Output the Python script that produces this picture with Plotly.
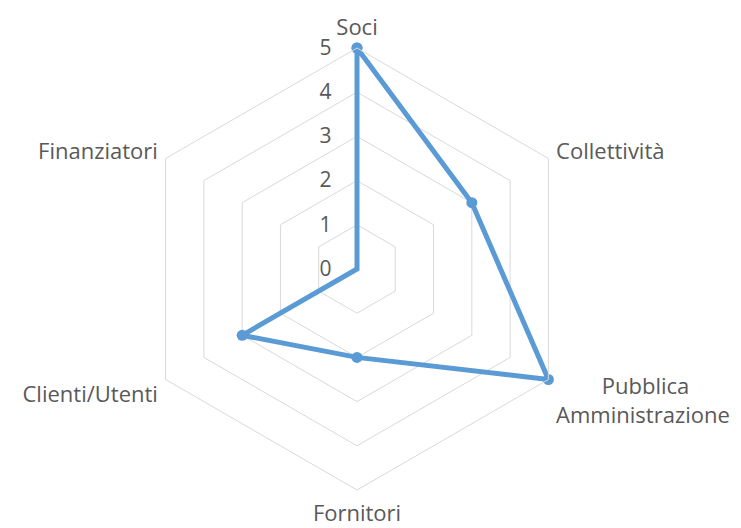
import plotly.graph_objects as go

NB = "\u00a0"
categories = ["Soci", "Collettività", NB * 8 + "Pubblica<br>Amministrazione",
              "Fornitori", "Clienti/Utenti", "Finanziatori"]
values = [5, 3, 5, 2, 3, 0]
tick_vals = [0, 1, 2, 3, 4, 5]
tick_text = [str(v) + NB * 4 for v in tick_vals]

W, H = 741, 528
cx, cy, R = 349, 261, 221

fig = go.Figure()
fig.add_trace(go.Scatterpolar(
    r=values + [values[0]],
    theta=categories + [categories[0]],
    mode="lines+markers",
    line=dict(color="#5B9BD5", width=5),
    marker=dict(color="#5B9BD5", size=11),
    showlegend=False,
))

fig.update_layout(
    width=W, height=H,
    margin=dict(l=0, r=0, t=0, b=0),
    paper_bgcolor="white",
    font=dict(family="Open Sans", color="#595959", size=22),
    polar=dict(
        domain=dict(x=[(cx - R) / W, (cx + R) / W], y=[(H - cy - R) / H, (H - cy + R) / H]),
        gridshape="linear",
        bgcolor="white",
        radialaxis=dict(
            range=[0, 5], tickvals=tick_vals, ticktext=tick_text, angle=90, tickangle=90,
            showline=False, gridcolor="#D9D9D9", gridwidth=1, ticks="",
            tickfont=dict(size=21, color="#595959"), side="counterclockwise",
        ),
        angularaxis=dict(
            rotation=90, direction="clockwise", showgrid=False,
            showline=True, linecolor="#D9D9D9", linewidth=1,
            ticks="outside", ticklen=4, tickcolor="rgba(0,0,0,0)",
            tickfont=dict(size=22, color="#595959"),
        ),
    ),
)

fig.write_html("out.html")
